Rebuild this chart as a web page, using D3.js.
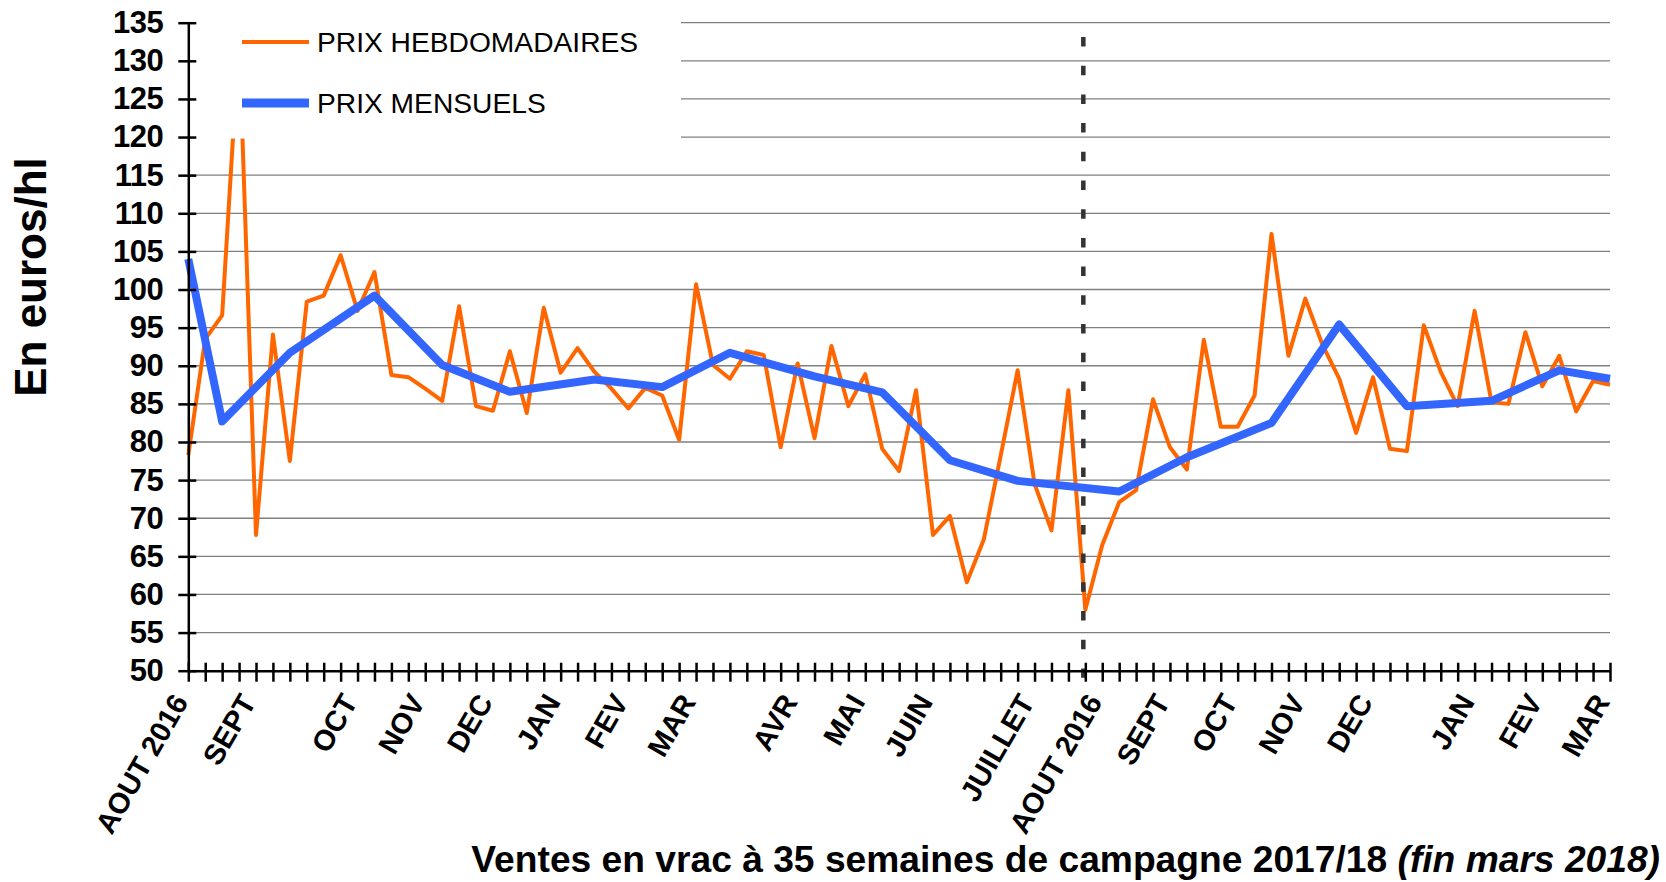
<!DOCTYPE html>
<html>
<head>
<meta charset="utf-8">
<script src="https://cdn.jsdelivr.net/npm/d3@7"></script>
<style>
    body { margin: 0; background: #ffffff; }
    svg { display: block; font-family: 'Liberation Sans', Arial, sans-serif; }
</style>
</head>
<body>
<svg id="canvas" width="1666" height="882"></svg>
<script>
// weekly prices, one value per week (85 weeks, two campaigns)
var weeklyPrices = [
    78.3, 93.5, 96.6, 133, 67.8, 94.1, 77.5, 98.4, 99.2, 104.5,
    97.2, 102.3, 88.8, 88.5, 87.0, 85.4, 97.8, 84.7, 84.1, 91.9,
    83.8, 97.6, 89.1, 92.3, 89.2, 87.0, 84.4, 87.1, 86.1, 80.3,
    100.7, 90.1, 88.3, 91.9, 91.4, 79.3, 90.3, 80.5, 92.6, 84.7,
    88.9, 79.1, 76.2, 86.8, 67.8, 70.3, 61.6, 67.2, 78.2, 89.4,
    74.5, 68.4, 86.8, 58.0, 66.5, 72.1, 73.7, 85.6, 79.3, 76.4,
    93.4, 82.0, 82.0, 86.1, 107.3, 91.3, 98.8, 92.8, 88.3, 81.2,
    88.5, 79.1, 78.8, 95.3, 89.2, 84.7, 97.2, 85.2, 85.0, 94.4,
    87.3, 91.3, 84.0, 88.0, 87.5
];

// monthly prices, placed on the week they belong to
var monthlyWeeks = [0, 2, 6, 11, 15, 19, 24, 28, 32, 37, 41, 45, 49, 55, 59, 64, 68, 72, 77, 81, 84];
var monthlyPrices = [104, 82.7, 91.7, 99.2, 90.1, 86.6, 88.2, 87.2, 91.7, 88.6, 86.5, 77.6, 74.9, 73.5, 78.0, 82.5, 95.4, 84.7, 85.4, 89.4, 88.3];

// month labels on the week axis
var monthWeeks = [0, 4, 10, 14, 18, 22, 26, 30, 36, 40, 44, 50, 54, 58, 62, 66, 70, 76, 80, 84];
var monthNames = ['AOUT 2016', 'SEPT', 'OCT', 'NOV', 'DEC', 'JAN', 'FEV', 'MAR', 'AVR', 'MAI', 'JUIN',
    'JUILLET', 'AOUT 2016', 'SEPT', 'OCT', 'NOV', 'DEC', 'JAN', 'FEV', 'MAR'];

var yTicks = d3.range(50, 136, 5);
var campaignStart = 53;

(function() {
    var svg = d3.select('#canvas');
    var left = 188.3, right = 1610, top = 22.7, bottom = 670.7;

    var x = d3.scaleLinear().domain([0, weeklyPrices.length - 1]).range([left, right]);
    var y = d3.scaleLinear().domain([50, 135]).range([bottom, top]);

    svg.append('rect')
        .attr('width', 1666)
        .attr('height', 882)
        .attr('fill', '#ffffff');

    // horizontal grid
    svg.append('g')
        .selectAll('line')
        .data(yTicks.slice(1))
        .enter().append('line')
        .attr('x1', left)
        .attr('x2', right)
        .attr('y1', function(d) { return y(d); })
        .attr('y2', function(d) { return y(d); })
        .attr('stroke', '#7f7f7f')
        .attr('stroke-width', 1.3);

    var weeklyLine = d3.line()
        .x(function(d, i) { return x(i); })
        .y(function(d) { return y(d); });

    svg.append('path')
        .datum(weeklyPrices)
        .attr('d', weeklyLine)
        .attr('fill', 'none')
        .attr('stroke', '#ff6600')
        .attr('stroke-width', 4)
        .attr('stroke-linejoin', 'round');

    var monthlyLine = d3.line()
        .x(function(d, i) { return x(monthlyWeeks[i]); })
        .y(function(d) { return y(d); });

    svg.append('path')
        .datum(monthlyPrices)
        .attr('d', monthlyLine)
        .attr('fill', 'none')
        .attr('stroke', '#3366ff')
        .attr('stroke-width', 8)
        .attr('stroke-linejoin', 'round');

    // start of the 2017/18 campaign
    svg.append('line')
        .attr('x1', x(campaignStart) - 2)
        .attr('x2', x(campaignStart) - 2)
        .attr('y1', 37)
        .attr('y2', bottom + 7)
        .attr('stroke', '#333333')
        .attr('stroke-width', 4.5)
        .attr('stroke-dasharray', '9.5,19.2');

    // legend sits on a white box that hides the top of the plot
    var legend = svg.append('g');
    legend.append('rect')
        .attr('x', left + 2)
        .attr('y', 0)
        .attr('width', 681 - left - 2)
        .attr('height', y(120) + 1.5)
        .attr('fill', '#ffffff');

    var legendItems = [
        { label: 'PRIX HEBDOMADAIRES', color: '#ff6600', width: 4, cy: 42 },
        { label: 'PRIX MENSUELS', color: '#3366ff', width: 9, cy: 103 }
    ];
    legend.selectAll('line')
        .data(legendItems)
        .enter().append('line')
        .attr('x1', 242)
        .attr('x2', 309)
        .attr('y1', function(d) { return d.cy; })
        .attr('y2', function(d) { return d.cy; })
        .attr('stroke', function(d) { return d.color; })
        .attr('stroke-width', function(d) { return d.width; });
    legend.selectAll('text')
        .data(legendItems)
        .enter().append('text')
        .attr('x', 317)
        .attr('y', function(d) { return d.cy; })
        .attr('dy', '0.36em')
        .attr('font-size', '28.2px')
        .text(function(d) { return d.label; });

    // axes
    var yAxis = svg.append('g')
        .attr('transform', 'translate(' + left + ',0)')
        .call(d3.axisLeft(y).tickValues(yTicks).tickSize(10).tickSizeOuter(0).tickPadding(15));
    yAxis.selectAll('.tick line').attr('x1', 8).attr('stroke-width', 2.5);
    yAxis.select('.domain').attr('stroke-width', 2.5);
    yAxis.selectAll('.tick text')
        .attr('font-family', "'Liberation Sans', Arial, sans-serif")
        .attr('font-size', '31px')
        .attr('font-weight', 'bold')
        .attr('letter-spacing', '-0.5px')
        .attr('fill', '#000000');

    var xAxis = svg.append('g')
        .attr('transform', 'translate(0,' + bottom + ')')
        .call(d3.axisBottom(x).tickValues(d3.range(weeklyPrices.length)).tickSize(11).tickSizeOuter(0).tickFormat(''));
    xAxis.selectAll('.tick line').attr('y1', -8).attr('stroke-width', 2.5);
    xAxis.select('.domain').attr('stroke-width', 2.5);

    svg.append('g')
        .selectAll('text')
        .data(monthNames)
        .enter().append('text')
        .attr('transform', function(d, i) {
            return 'translate(' + (x(monthWeeks[i]) - 8) + ',' + (bottom + 26) + ') rotate(-60)';
        })
        .attr('text-anchor', 'end')
        .attr('dy', '0.35em')
        .attr('font-size', '29px')
        .attr('font-weight', 'bold')
        .text(function(d) { return d; });

    // axis titles
    svg.append('text')
        .attr('transform', 'translate(46,277) rotate(-90)')
        .attr('text-anchor', 'middle')
        .attr('font-size', '44px')
        .attr('font-weight', 'bold')
        .text('En euros/hl');

    var xTitle = svg.append('text')
        .attr('x', 1660)
        .attr('y', 872)
        .attr('text-anchor', 'end')
        .attr('font-size', '37.2px')
        .attr('font-weight', 'bold');
    xTitle.append('tspan').text('Ventes en vrac à 35 semaines de campagne 2017/18 ');
    xTitle.append('tspan').attr('font-style', 'italic').text('(fin mars 2018)');
})();
</script>
</body>
</html>
